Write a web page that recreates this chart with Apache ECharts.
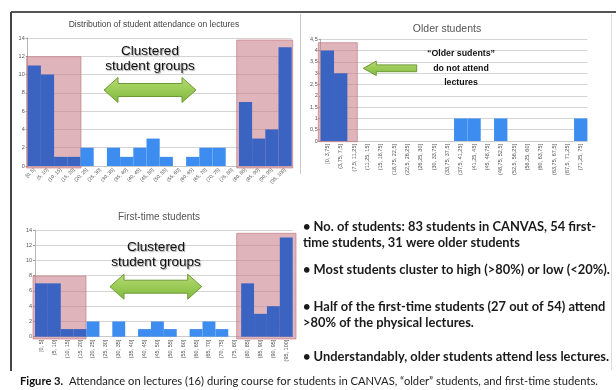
<!DOCTYPE html>
<html>
<head>
<meta charset="utf-8">
<script src="https://cdn.jsdelivr.net/npm/echarts/dist/echarts.min.js"></script>
<style>
html,body{margin:0;padding:0;background:#fff}
#c{width:616px;height:390px}
</style>
</head>
<body>
<div id="c"></div>
<script>
// Attendance bins (share of the 16 lectures attended)
const binsPercent = ['[0, 5]','(5, 10]','(10, 15]','(15, 20]','(20, 25]','(25, 30]','(30, 35]','(35, 40]','(40, 45]','(45, 50]',
  '(50, 55]','(55, 60]','(60, 65]','(65, 70]','(70, 75]','(75, 80]','(80, 85]','(85, 90]','(90, 95]','(95, 100]'];
const binsOlder = ['[0, 3,75]','(3,75, 7,5]','(7,5, 11,25]','(11,25, 15]','(15, 18,75]','(18,75, 22,5]','(22,5, 26,25]','(26,25, 30]',
  '(30, 33,75]','(33,75, 37,5]','(37,5, 41,25]','(41,25, 45]','(45, 48,75]','(48,75, 52,5]','(52,5, 56,25]','(56,25, 60]',
  '(60, 63,75]','(63,75, 67,5]','(67,5, 71,25]','(71,25, 75]'];

// Number of students per bin
const allStudents       = [11,10,1,1,2,0,2,1,2,3,1,0,1,2,2,0,7,3,4,13];
const olderStudents     = [4,3,0,0,0,0,0,0,0,0,1,1,0,1,0,0,0,0,0,1];
const firstTimeStudents = [7,7,1,1,2,0,2,0,1,2,1,0,1,2,1,0,7,3,4,13];

// Bins belonging to the low / high attendance clusters
const clusterBins      = [0,1,2,3,16,17,18,19];
const clusterBinsOlder = [0,1,2];

const DARK = '#3b63c2', LIGHT = '#3d8cf0';
const PINK = 'rgba(200,128,138,0.58)', PINK_EDGE = 'rgba(190,110,120,0.6)';

function barData(values, cluster) {
  return values.map((v, i) => ({ value: v, itemStyle: { color: cluster.includes(i) ? DARK : LIGHT } }));
}

const grids = [
  { left: 27.7, top: 38, width: 264, height: 128 },
  { left: 320.7, top: 39.3, width: 266.7, height: 101.7 },
  { left: 35, top: 230, width: 257.7, height: 106.7 }
];

function yAxis(gi, max, interval, fmt) {
  return {
    type: 'value', gridIndex: gi, min: 0, max: max, interval: interval,
    axisLine: { show: true, lineStyle: { color: '#b5b5b5', width: 1 } },
    axisTick: { show: true, length: 2, lineStyle: { color: '#999' } },
    axisLabel: { fontSize: 5.5, color: '#555', margin: 3, fontFamily: 'Liberation Sans', formatter: fmt },
    splitLine: { lineStyle: { color: '#d4d4d4', width: 1 } }
  };
}
function xAxis(gi, data, rotate, size) {
  return {
    type: 'category', gridIndex: gi, data: data,
    axisLine: { show: true, lineStyle: { color: '#c8c8c8' } },
    axisTick: { show: false },
    axisLabel: { interval: 0, rotate: rotate, fontSize: size, color: '#555', margin: 3, fontFamily: 'Liberation Sans' }
  };
}

const chart = echarts.init(document.getElementById('c'), null, { renderer: 'canvas' });

function rect(x, y, w, h) {
  return { type: 'rect', z: 1, shape: { x: x, y: y, width: w, height: h },
    style: { fill: PINK, stroke: PINK_EDGE, lineWidth: 1 } };
}
const arrowFill = () => new echarts.graphic.LinearGradient(0, 0, 0, 1, [{ offset: 0, color: '#b6dc72' }, { offset: 1, color: '#7fb93c' }]);
function doubleArrow(x1, x2, cy, hh, sh, hl) {
  return { type: 'polygon', z: 20,
    shape: { points: [[x1, cy], [x1 + hl, cy - hh], [x1 + hl, cy - sh], [x2 - hl, cy - sh], [x2 - hl, cy - hh],
      [x2, cy], [x2 - hl, cy + hh], [x2 - hl, cy + sh], [x1 + hl, cy + sh], [x1 + hl, cy + hh]] },
    style: { fill: arrowFill(), stroke: '#6d9a36', lineWidth: 1 } };
}
function leftArrow(x1, x2, cy, hh, sh, hl) {
  return { type: 'polygon', z: 20,
    shape: { points: [[x1, cy], [x1 + hl, cy - hh], [x1 + hl, cy - sh], [x2, cy - sh], [x2, cy + sh], [x1 + hl, cy + sh], [x1 + hl, cy + hh]] },
    style: { fill: arrowFill(), stroke: '#6d9a36', lineWidth: 1 } };
}
function label(text, x, y, opts) {
  return { type: 'text', z: 30, x: x, y: y,
    style: Object.assign({ text: text, fill: '#333', fontFamily: 'Liberation Sans', fontSize: 10, align: 'center', verticalAlign: 'middle' }, opts) };
}
function line(x1, y1, x2, y2, color, w) {
  return { type: 'line', z: 30, shape: { x1: x1, y1: y1, x2: x2, y2: y2 }, style: { stroke: color, lineWidth: w } };
}

const clusterText = { fontSize: 13.5, fontWeight: 'normal', fill: '#111', lineHeight: 14.5,
  textShadowColor: 'rgba(0,0,0,0.35)', textShadowOffsetX: 1, textShadowOffsetY: 1, textShadowBlur: 1 };
const bulletStyle = { fontFamily: 'Lato', fontSize: 12.9, fill: '#1a1a1a', align: 'left', fontWeight: 'bold' };

chart.setOption({
  backgroundColor: '#fff',
  animation: false,
  grid: grids,
  xAxis: [xAxis(0, binsPercent, 45, 5), xAxis(1, binsOlder, 90, 5.5), xAxis(2, binsPercent, 90, 5.5)],
  yAxis: [yAxis(0, 14, 2), yAxis(1, 4.5, 0.5, v => String(v).replace('.', ',')), yAxis(2, 14, 2)],
  series: [
    { type: 'bar', xAxisIndex: 0, yAxisIndex: 0, barCategoryGap: '0%', z: 2, data: barData(allStudents, clusterBins) },
    { type: 'bar', xAxisIndex: 1, yAxisIndex: 1, barCategoryGap: '0%', z: 2, data: barData(olderStudents, clusterBinsOlder) },
    { type: 'bar', xAxisIndex: 2, yAxisIndex: 2, barCategoryGap: '0%', z: 2, data: barData(firstTimeStudents, clusterBins) }
  ],
  graphic: [
    // frame
    line(11, 12, 616, 12, '#555', 2),
    line(11, 12, 11, 371, '#444', 2),
    line(611.5, 14, 611.5, 370, '#dcdcdc', 1),
    line(300.5, 14, 300.5, 174, '#c8c8c8', 1),
    // cluster highlights
    rect(26.7, 56.7, 54.3, 111.3),
    rect(236.7, 40, 56, 128),
    rect(318.3, 42.7, 39, 99),
    rect(33, 276, 53, 63),
    rect(236.7, 233.3, 59.3, 105.7),
    // chart titles
    label('Distribution of student attendance on lectures', 154, 25, { fontSize: 8.5, fill: '#444' }),
    label('Older students', 447, 29, { fontSize: 10.5, fill: '#555' }),
    label('First-time students', 159, 217, { fontSize: 10, fill: '#555' }),
    // annotations
    label('Clustered\nstudent groups', 150, 59, clusterText),
    doubleArrow(104, 196, 90, 12.5, 6.5, 14),
    label('Clustered\nstudent groups', 156, 255, clusterText),
    doubleArrow(110, 201.7, 286.7, 12.5, 6.5, 14),
    leftArrow(363.3, 416.7, 68.3, 7.2, 3.4, 13),
    label('\u201cOlder sudents\u201d\ndo not attend\nlectures', 461, 68.5, { fontSize: 8.8, fontWeight: 'bold', fill: '#111', lineHeight: 14.5 }),
    // notes
    label('\u2022 No. of students: 83 students in CANVAS, 54 first-', 303, 227, bulletStyle),
    label('time students, 31 were older students', 303, 243, bulletStyle),
    label('\u2022 Most students cluster to high (>80%) or low (<20%).', 303, 270, bulletStyle),
    label('\u2022 Half of the first-time students (27 out of 54) attend', 303, 307, bulletStyle),
    label('>80% of the physical lectures.', 303, 323, bulletStyle),
    label('\u2022 Understandably, older students attend less lectures.', 303, 357, bulletStyle),
    { type: 'text', z: 30, x: 20, y: 381,
      style: { text: '{b|Figure 3.}  Attendance on lectures (16) during course for students in CANVAS, \u201colder\u201d students, and first-time students.',
        fontFamily: 'Lato', fontSize: 11.2, fill: '#222', align: 'left', verticalAlign: 'middle',
        rich: { b: { fontWeight: 'bold', fontFamily: 'Lato', fontSize: 11.2, fill: '#111' } } } }
  ]
});
</script>
</body>
</html>
